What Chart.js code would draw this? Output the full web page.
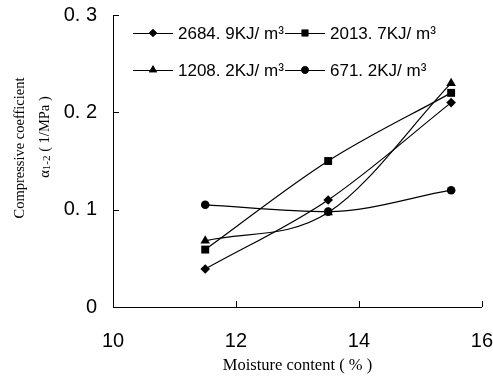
<!DOCTYPE html>
<html>
<head>
<meta charset="utf-8">
<script src="https://cdn.jsdelivr.net/npm/chart.js@4/dist/chart.umd.min.js"></script>
<style>
  html, body { margin: 0; padding: 0; background: #fff; }
  #wrap { position: relative; width: 493px; height: 380px; }
</style>
</head>
<body>
<div id="wrap"><canvas id="chart" width="493" height="380"></canvas></div>
<script>
const moisture = [11.5, 13.5, 15.5];
const seriesLabels = ['2684. 9KJ/ m³', '2013. 7KJ/ m³', '1208. 2KJ/ m³', '671. 2KJ/ m³'];
const energy2684 = [0.039, 0.11, 0.21];
const energy2013 = [0.059, 0.15, 0.22];
const energy1208 = [0.068, 0.097, 0.23];
const energy671 = [0.105, 0.098, 0.12];
const xTicks = [10, 12, 14, 16];
const yTicks = [0, 0.1, 0.2, 0.3];
const yTitleLine1 = 'Compressive coefficient';
const yTitleSymbol = ['α', '1-2', ' ( 1/MPa )'];

const markers = ['rectRot', 'rect', 'triangle', 'circle'];
const markerSize = [4.8, 5.6, 5.5, 4.3];
const values = [energy2684, energy2013, energy1208, energy671];

const toPoints = arr => arr.map((v, i) => ({ x: moisture[i], y: v }));

const serif = '"Liberation Serif", "Times New Roman", serif';

// inward tick marks, in-plot legend, two-line y title
const decorPlugin = {
  id: 'decor',
  afterDraw(chart) {
    const { ctx, scales: { x, y } } = chart;
    ctx.save();
    ctx.strokeStyle = '#000';
    ctx.lineWidth = 1;
    ctx.beginPath();
    xTicks.forEach(t => {
      const px = Math.round(x.getPixelForValue(t)) + 0.5;
      ctx.moveTo(px, y.bottom);
      ctx.lineTo(px, y.bottom - 6);
    });
    yTicks.forEach(t => {
      const py = Math.round(y.getPixelForValue(t)) + 0.5;
      ctx.moveTo(x.left, py);
      ctx.lineTo(x.left + 6, py);
    });
    ctx.stroke();

    const cols = [133, 285];
    const rows = [33, 70];
    ctx.font = '17px "Liberation Sans", Arial, sans-serif';
    ctx.textBaseline = 'middle';
    ctx.fillStyle = '#000';
    seriesLabels.forEach((label, i) => {
      const lx = cols[i % 2];
      const ly = rows[Math.floor(i / 2)];
      ctx.beginPath();
      ctx.moveTo(lx, ly + 0.5);
      ctx.lineTo(lx + 40, ly + 0.5);
      ctx.stroke();
      Chart.helpers.drawPoint(ctx, { pointStyle: markers[i], radius: markerSize[i] * 0.85, rotation: 0, borderWidth: 0 }, lx + 20, ly);
      ctx.fill();
      ctx.fillText(label, lx + 45, ly + 1);
    });

    // y title
    ctx.translate(0, 0);
    ctx.rotate(-Math.PI / 2);
    ctx.textBaseline = 'alphabetic';
    ctx.textAlign = 'center';
    ctx.font = '14.5px ' + serif;
    ctx.fillText(yTitleLine1, -148, 24);

    const big = '14.5px ' + serif;
    const small = '11px ' + serif;
    ctx.font = big;
    const w0 = ctx.measureText(yTitleSymbol[0]).width;
    const w2 = ctx.measureText(yTitleSymbol[2]).width;
    ctx.font = small;
    const w1 = ctx.measureText(yTitleSymbol[1]).width;
    let sx = -137 - (w0 + w1 + w2) / 2;
    ctx.textAlign = 'left';
    ctx.font = big;
    ctx.fillText(yTitleSymbol[0], sx, 49);
    sx += w0;
    ctx.font = small;
    ctx.fillText(yTitleSymbol[1], sx, 50);
    sx += w1;
    ctx.font = big;
    ctx.fillText(yTitleSymbol[2], sx, 49);
    ctx.restore();
  }
};

new Chart(document.getElementById('chart'), {
  type: 'scatter',
  data: {
    datasets: values.map((vals, i) => ({
      label: seriesLabels[i],
      data: toPoints(vals),
      showLine: true,
      borderColor: '#000',
      backgroundColor: '#000',
      borderWidth: 1.2,
      tension: 0.4,
      cubicInterpolationMode: 'monotone',
      pointStyle: markers[i],
      pointRadius: markerSize[i],
      pointBorderWidth: 0
    }))
  },
  options: {
    responsive: false,
    animation: false,
    layout: { padding: { top: 15, right: 0, left: 0, bottom: 0 } },
    plugins: { legend: { display: false }, tooltip: { enabled: false } },
    scales: {
      x: {
        type: 'linear',
        min: 10, max: 16,
        afterFit: s => { s.height = 73; },
        afterBuildTicks: s => { s.ticks = xTicks.map(v => ({ value: v })); },
        grid: { display: false, drawTicks: true, tickLength: 22 },
        border: { display: true, color: '#000', width: 1 },
        ticks: {
          color: '#000', padding: 0,
          font: { family: '"Liberation Sans", Arial, sans-serif', size: 20 }
        },
        title: {
          display: true,
          text: 'Moisture content ( % )',
          color: '#000',
          align: 'center',
          padding: { top: 3 },
          font: { family: serif, size: 16.5 }
        }
      },
      y: {
        type: 'linear',
        min: 0, max: 0.3,
        afterFit: s => { s.width = 113; },
        afterBuildTicks: s => { s.ticks = yTicks.map(v => ({ value: v })); },
        grid: { display: false, drawTicks: true, tickLength: 16 },
        border: { display: true, color: '#000', width: 1 },
        ticks: {
          color: '#000', padding: 0,
          callback: v => v === 0 ? '0' : v.toFixed(1).replace('.', '. '),
          font: { family: '"Liberation Sans", Arial, sans-serif', size: 20 }
        },
        title: { display: false }
      }
    }
  },
  plugins: [decorPlugin]
});
</script>
</body>
</html>
